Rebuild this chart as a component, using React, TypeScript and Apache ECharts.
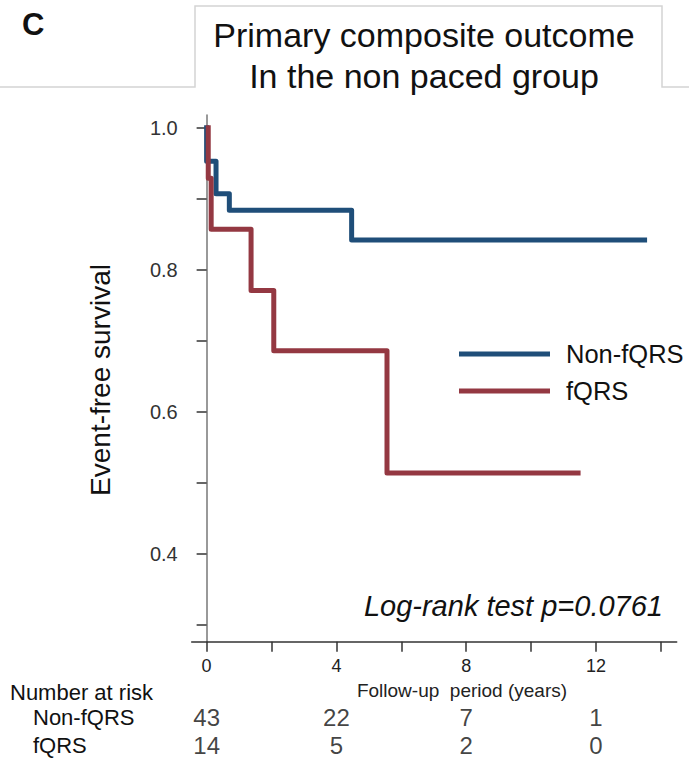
import React, { useEffect, useRef } from "react";
import * as echarts from "echarts";

// Kaplan-Meier step points (time in years, event-free survival)
const nonFqrsTime = [0, 0, 0.29, 0.7, 4.47, 13.5];
const nonFqrsSurv = [1.0, 0.953, 0.907, 0.884, 0.842, 0.842];
const fqrsTime = [0.05, 0.05, 0.14, 1.37, 2.07, 5.56, 11.45];
const fqrsSurv = [1.0, 0.929, 0.857, 0.771, 0.686, 0.514, 0.514];

// Number at risk table
const riskTimes = [0, 4, 8, 12];
const riskGroups = ["Non-fQRS", "fQRS"];
const riskNonFqrs = [43, 22, 7, 1];
const riskFqrs = [14, 5, 2, 0];

// Axis ticks / labels
const yTickValues = [0.3, 0.4, 0.5, 0.6, 0.7, 0.8, 0.9, 1.0];
const yLabelValues = [0.4, 0.6, 0.8, 1.0];
const xTickValues = [0, 2, 4, 6, 8, 10, 12, 14];
const xLabelValues = [0, 4, 8, 12];

const BLUE = "#1f4e79";
const RED = "#943842";
const FONT = "'Liberation Sans', Arial, Helvetica, sans-serif";

export default function App() {
  const ref = useRef<HTMLDivElement>(null);
  useEffect(() => {
    const chart = echarts.init(ref.current!, null, { renderer: "svg" });
    const zip = (t: number[], s: number[]) => t.map((v, i) => [v, s[i]]);
    const riskData: any[] = [];
    riskTimes.forEach((t, i) => {
      riskData.push([t, riskGroups[0], riskNonFqrs[i]]);
      riskData.push([t, riskGroups[1], riskFqrs[i]]);
    });
    chart.setOption({
      animation: false,
      backgroundColor: "#ffffff",
      textStyle: { fontFamily: FONT },
      grid: [
        { left: 191.7, top: 115, width: 485, height: 526.7 },
        { left: 191.7, top: 703, width: 485, height: 56 },
      ],
      xAxis: [
        {
          type: "value",
          gridIndex: 0,
          min: -0.46,
          max: 14.49,
          axisLine: { show: true, lineStyle: { color: "#333", width: 1.5 } },
          axisTick: {
            show: true,
            customValues: xTickValues,
            length: 10,
            lineStyle: { color: "#333", width: 1.5 },
          },
          axisLabel: {
            customValues: xLabelValues,
            fontSize: 18,
            color: "#222",
            margin: 15,
            fontFamily: FONT,
          },
          splitLine: { show: false },
        },
        {
          type: "value",
          gridIndex: 1,
          min: -0.46,
          max: 14.49,
          show: false,
        },
      ],
      yAxis: [
        {
          type: "value",
          gridIndex: 0,
          min: 0.2765,
          max: 1.018,
          axisLine: { show: true, lineStyle: { color: "#777", width: 1.5 } },
          axisTick: {
            show: true,
            customValues: yTickValues,
            length: 10,
            lineStyle: { color: "#333", width: 1.5 },
          },
          axisLabel: {
            customValues: yLabelValues,
            formatter: (v: number) => v.toFixed(1),
            fontSize: 20,
            color: "#333",
            margin: 14,
            fontFamily: FONT,
          },
          splitLine: { show: false },
        },
        {
          type: "category",
          gridIndex: 1,
          data: riskGroups,
          inverse: true,
          axisLine: { show: false },
          axisTick: { show: false },
          axisLabel: {
            interval: 0,
            align: "left",
            margin: 158.7,
            fontSize: 22,
            color: "#111",
            fontFamily: FONT,
          },
        },
      ],
      legend: {
        data: ["Non-fQRS", "fQRS"],
        orient: "vertical",
        left: 454,
        top: 336,
        icon: "rect",
        itemWidth: 91,
        itemHeight: 5,
        itemGap: 11,
        textStyle: {
          fontSize: 25.5,
          color: "#111",
          lineHeight: 23,
          padding: [0, 0, 0, 11],
          fontFamily: FONT,
        },
      },
      series: [
        {
          name: "Non-fQRS",
          type: "line",
          xAxisIndex: 0,
          yAxisIndex: 0,
          step: "end",
          symbol: "none",
          color: BLUE,
          lineStyle: { width: 5, color: BLUE, cap: "square", join: "round" },
          data: zip(nonFqrsTime, nonFqrsSurv),
          z: 2,
        },
        {
          name: "fQRS",
          type: "line",
          xAxisIndex: 0,
          yAxisIndex: 0,
          step: "end",
          symbol: "none",
          color: RED,
          lineStyle: { width: 5, color: RED, cap: "square", join: "round" },
          data: zip(fqrsTime, fqrsSurv),
          z: 3,
        },
        {
          name: "risk",
          type: "scatter",
          xAxisIndex: 1,
          yAxisIndex: 1,
          symbolSize: 0,
          silent: true,
          label: {
            show: true,
            position: "inside",
            formatter: (p: any) => String(p.value[2]),
            fontSize: 24,
            color: "#111",
            fontFamily: FONT,
          },
          data: riskData,
        },
      ],
      graphic: [
        {
          type: "polyline",
          shape: {
            points: [
              [0, 87],
              [195, 87],
              [195, 6],
              [662, 6],
              [662, 87],
              [689, 87],
            ],
          },
          style: { stroke: "#d4d4d4", lineWidth: 1.5, fill: null },
          silent: true,
        },
        {
          type: "text",
          left: 22,
          top: 9,
          style: { text: "C", font: `bold 31px ${FONT}`, fill: "#111" },
        },
        {
          type: "text",
          x: 424,
          y: 35,
          style: {
            text: "Primary composite outcome",
            font: `34px ${FONT}`,
            fill: "#111",
            textAlign: "center",
            textVerticalAlign: "middle",
          },
        },
        {
          type: "text",
          x: 424,
          y: 76,
          style: {
            text: "In the non paced group",
            font: `34px ${FONT}`,
            fill: "#111",
            textAlign: "center",
            textVerticalAlign: "middle",
          },
        },
        {
          type: "text",
          x: 100,
          y: 380,
          rotation: Math.PI / 2,
          style: {
            text: "Event-free survival",
            font: `28px ${FONT}`,
            fill: "#111",
            textAlign: "center",
            textVerticalAlign: "middle",
          },
        },
        {
          type: "text",
          x: 663,
          y: 606,
          style: {
            text: "Log-rank test p=0.0761",
            font: `italic 29px ${FONT}`,
            fill: "#111",
            textAlign: "right",
            textVerticalAlign: "middle",
          },
        },
        {
          type: "text",
          x: 462,
          y: 690,
          style: {
            text: "Follow-up  period (years)",
            font: `19px ${FONT}`,
            fill: "#222",
            textAlign: "center",
            textVerticalAlign: "middle",
          },
        },
        {
          type: "text",
          x: 10,
          y: 692,
          style: {
            text: "Number at risk",
            font: `22px ${FONT}`,
            fill: "#111",
            textAlign: "left",
            textVerticalAlign: "middle",
          },
        },
      ],
    });
    return () => chart.dispose();
  }, []);
  return (
    <div
      ref={ref}
      style={{
        position: "fixed",
        left: 0,
        top: 0,
        width: 689,
        height: 763,
        background: "#fff",
      }}
    />
  );
}
